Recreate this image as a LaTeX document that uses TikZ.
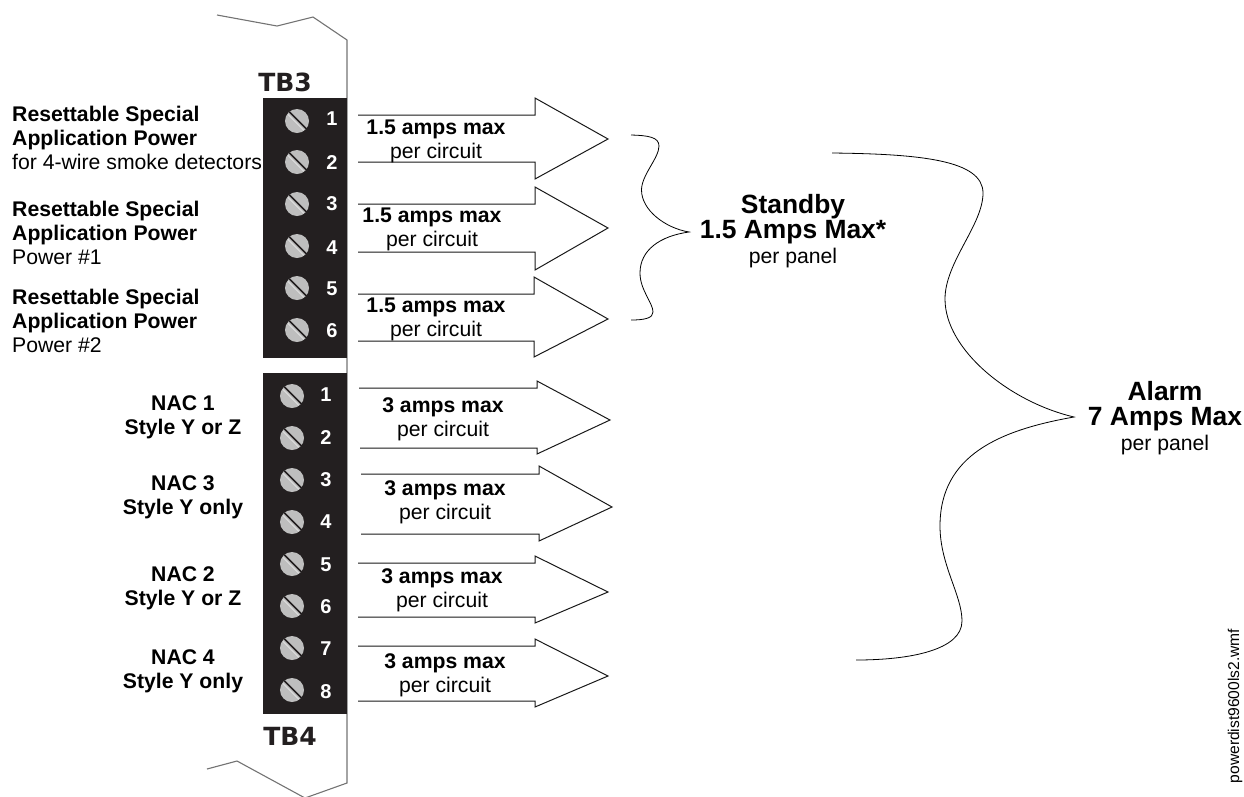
\documentclass[tikz,border=0pt]{standalone}
\usepackage{fontspec}
\setmainfont{Liberation Sans}
\newfontfamily\tbfont{DejaVu Sans}
\usepackage{tikz}
\definecolor{blockblack}{RGB}{35,31,32}
\definecolor{screwgray}{RGB}{190,190,190}
\tikzset{
  outline/.style = {draw = black!90, line width = 1pt, line join = miter},
  board/.style = {draw = black!55, line width = 1.1pt},
  brace/.style = {draw = black, line width = 0.8pt},
  label/.style = {inner sep = 0pt, align = center, font = \fontsize{21.2}{24}\selectfont},
  sidelabel/.style = {label, align = left, anchor = west},
  biglabel/.style = {inner sep = 0pt, align = center, font = \fontsize{26.4}{25}\selectfont\bfseries},
  tbname/.style = {inner sep = 0pt, font = \tbfont\fontsize{25}{25}\selectfont\bfseries, text = blockblack},
  screw/.style = {circle, fill = screwgray, minimum size = 24pt, inner sep = 0pt},
  slot/.style = {blockblack, line width = 1.5pt},
  slotedge/.style = {white!88!black, line width = 1pt},
  pin/.style = {inner sep = 0pt, text = white, font = \fontsize{20}{20}\selectfont\bfseries}
}

\begin{document}
\begin{tikzpicture}[x = 1pt, y = -1pt]
    \useasboundingbox (0,0) rectangle (1244,796);

    % board outline
    \draw[board] (217,15) -- (277,26) -- (313,17) -- (347,40) -- (347,783) -- (305,798) -- (237,761) -- (207,769);

    \fill[blockblack] (263,98) rectangle (347,358);
    \fill[blockblack] (263,373) rectangle (347,714);
    \node[tbname] (tb3) at (285,82) {TB3};
    \node[tbname] (tb4) at (290,736) {TB4};

    \foreach \n/\sy/\py in {1/121/119, 2/162/163, 3/204/204, 4/246/248, 5/288/289, 6/330/331} {
      \node[screw] (a\n) at (297,\sy) {};
      \draw[slotedge] (a\n.135) ++(-0.5,2) -- ++(16,16);
      \draw[slot] (a\n.135) ++(1,-0.5) -- ++(18.5,18.5);
      \node[pin] (pa\n) at (332,\py) {\n};
    }
    \foreach \n/\sy/\py in {1/396/395, 2/438/438, 3/480/480, 4/522/522, 5/564/565, 6/606/607, 7/648/649, 8/690/692} {
      \node[screw] (b\n) at (292,\sy) {};
      \draw[slotedge] (b\n.135) ++(-0.5,2) -- ++(16,16);
      \draw[slot] (b\n.135) ++(1,-0.5) -- ++(18.5,18.5);
      \node[pin] (pb\n) at (326,\py) {\n};
    }

    \draw[outline] (358,115) -- (535,115) -- (535,98) -- (608,139) -- (535,179) -- (535,162) -- (358,162);
    \draw[outline] (358,204) -- (535,204) -- (535,187) -- (608,228) -- (535,270) -- (535,252) -- (358,252);
    \draw[outline] (358,294) -- (534,294) -- (534,277) -- (608,319) -- (534,357) -- (534,341) -- (358,341);
    \draw[outline] (359,388) -- (537,388) -- (537,381) -- (610,420) -- (537,454) -- (537,448) -- (360,448);
    \draw[outline] (361,474) -- (539,474) -- (539,466) -- (612,507) -- (539,541) -- (539,534) -- (361,534);
    \draw[outline] (358,563) -- (535,563) -- (535,556) -- (608,592) -- (535,623) -- (535,617) -- (358,617);
    \draw[outline] (358,646) -- (535,646) -- (535,639) -- (608,676) -- (535,707) -- (535,701) -- (358,701);

    \node[label] (c1) at (436,141) {\textbf{1.5 amps max}\\per circuit};
    \node[label] (c2) at (432,229) {\textbf{1.5 amps max}\\per circuit};
    \node[label] (c3) at (436,319) {\textbf{1.5 amps max}\\per circuit};
    \node[label] (c4) at (443,419) {\textbf{3 amps max}\\per circuit};
    \node[label] (c5) at (445,502) {\textbf{3 amps max}\\per circuit};
    \node[label] (c6) at (442,590) {\textbf{3 amps max}\\per circuit};
    \node[label] (c7) at (445,675) {\textbf{3 amps max}\\per circuit};

    \node[sidelabel] (r1) at (12,138) {\textbf{Resettable Special}\\\textbf{Application Power}\\for 4-wire smoke detectors};
    \node[sidelabel] (r2) at (12,233) {\textbf{Resettable Special}\\\textbf{Application Power}\\Power \#1};
    \node[sidelabel] (r3) at (12,321) {\textbf{Resettable Special}\\\textbf{Application Power}\\Power \#2};

    \node[label] (nac1) at (183,417) {\textbf{NAC 1}\\\textbf{Style Y or Z}};
    \node[label] (nac3) at (183,497) {\textbf{NAC 3}\\\textbf{Style Y only}};
    \node[label] (nac2) at (183,588) {\textbf{NAC 2}\\\textbf{Style Y or Z}};
    \node[label] (nac4) at (183,671) {\textbf{NAC 4}\\\textbf{Style Y only}};

    % standby and alarm braces
    \draw[brace] (631,135) .. controls (648,135.5) and (659,137) .. (659,146) .. controls (659,158) and (641.5,175) .. (641.5,190)
      .. controls (641.5,210) and (665,228) .. (689,232) .. controls (660,236) and (640,250) .. (640,273)
      .. controls (640,290) and (653,303) .. (653,312) .. controls (653,318) and (645,320) .. (631,320);
    \draw[brace] (832,153) .. controls (920,154) and (983,160) .. (983,193) .. controls (983,225) and (945,262) .. (945,299)
      .. controls (945,350) and (1010,402) .. (1074,417) .. controls (1000,430) and (940,455) .. (940,526)
      .. controls (940,565) and (962,595) .. (962,621) .. controls (962,650) and (910,660) .. (856,660);

    \node[biglabel] (standby) at (793,219) {Standby\\1.5 Amps Max*};
    \node[label] (standbypanel) at (793,258) {per panel};
    \node[biglabel] (alarm) at (1165,406) {Alarm\\7 Amps Max};
    \node[label] (alarmpanel) at (1165,445) {per panel};

    \node[inner sep = 0pt, rotate = 90, font = \fontsize{15.6}{16}\selectfont] (filename) at (1235,706) {powerdist9600ls2.wmf};
\end{tikzpicture}
\end{document}
